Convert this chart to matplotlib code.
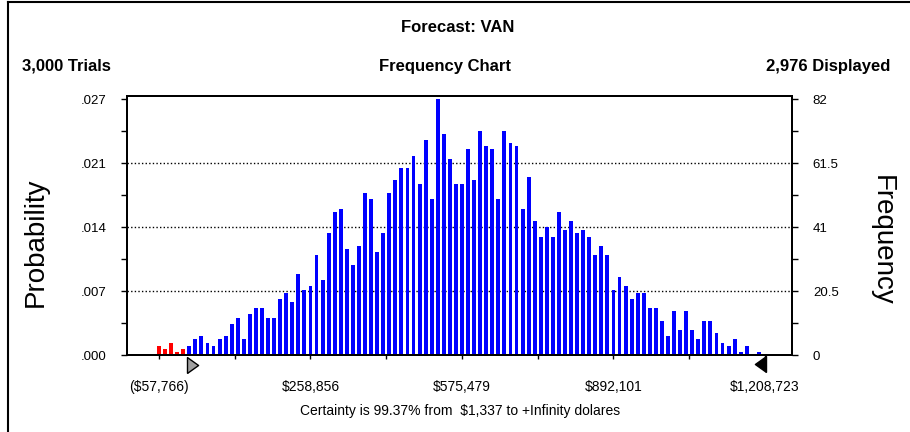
import matplotlib.pyplot as plt
import numpy as np
from matplotlib.lines import Line2D
from matplotlib.path import Path
from matplotlib.transforms import blended_transform_factory

# frequency counts of the 100 bins
counts = [3, 2, 4, 1, 2,
          3, 5, 6, 4, 3, 5, 6, 10, 12, 5, 13, 15, 15, 12, 12, 18, 20, 17, 26,
          21, 22, 32, 24, 39, 46, 47, 34,
          29, 35, 52, 50, 33, 39, 52, 56, 60, 60, 64, 55, 69, 50, 82, 71, 63,
          55, 55, 66, 56, 72, 67, 66, 50, 72, 68, 67, 47, 57, 43, 38, 41, 38, 46,
          40, 43, 39, 40, 38, 32, 35, 32, 21, 25, 22, 18, 20, 20, 15, 15, 11, 6,
          14, 8, 14, 8, 5, 11, 11, 7, 4, 3, 5, 1, 3, 0, 1]
range_min = -57766
range_max = 1208723
certainty_low = 1337
freq_ticks = [0, 20.5, 41, 61.5, 82]
prob_labels = [".000", ".007", ".014", ".021", ".027"]
freq_labels = ["0", "20.5", "41", "61.5", "82"]
x_labels = ["($57,766)", "$258,856", "$575,479", "$892,101", "$1,208,723"]

n_bins = len(counts)
bin_w = (range_max - range_min) / n_bins
span = range_max - range_min
centers = range_min + bin_w * np.arange(n_bins)
colors = ["#ff0000" if c < certainty_low else "#0000ff" for c in centers]

W, H = 910, 432
fig = plt.figure(figsize=(W / 100, H / 100), dpi=100)
ax = fig.add_axes([127 / W, 1 - 355 / H, (792 - 127) / W, (355 - 96) / H])

ax.bar(centers, counts, width=bin_w * 0.64, color=colors, zorder=3)
ax.set_xlim(range_min - 0.0528 * span, range_max + 0.0446 * span)
ax.set_ylim(0, 83.1)

ax.hlines(freq_ticks[1:-1], *ax.get_xlim(), colors="black",
          linestyles=(0, (1, 1.6)), linewidth=1.0, zorder=1)

for s in ax.spines.values():
    s.set_linewidth(1.4)

ax.set_xticks(np.linspace(range_min, range_max, 5), x_labels)
ax.set_xticks(np.linspace(range_min, range_max, 9), minor=True)
ax.tick_params(axis="x", which="both", length=3, width=1, pad=15,
               labelsize=10, labelfontfamily="Liberation Sans")

ax.set_yticks(freq_ticks, prob_labels)
ax.set_yticks(np.arange(0, 83, 10.25), minor=True)
ax.tick_params(axis="y", which="both", length=4, width=1, pad=11,
               labelsize=9.5, labelfontfamily="Liberation Sans")

ax2 = ax.twinx()
ax2.set_ylim(ax.get_ylim())
ax2.set_yticks(freq_ticks, freq_labels)
ax2.set_yticks(np.arange(0, 83, 10.25), minor=True)
ax2.tick_params(axis="y", which="both", length=4, width=1, pad=11,
                labelsize=9.5, labelfontfamily="Liberation Sans")
for s in ax2.spines.values():
    s.set_linewidth(1.4)

# certainty markers under the axis
tri_r = Path([(0, -1), (0, 1), (1.4, 0), (0, -1)])
tri_l = Path([(0, -1), (0, 1), (-1.4, 0), (0, -1)])
tr = blended_transform_factory(ax.transData, fig.transFigure)
ax.plot([certainty_low], [1 - 365 / H], marker=tri_r, markersize=16,
        markerfacecolor="#a0a0a0", markeredgecolor="black", markeredgewidth=1,
        transform=tr, clip_on=False, linestyle="none")
ax.plot([range_max + 0.0025 * span], [1 - 364 / H], marker=tri_l, markersize=16,
        markerfacecolor="black", markeredgecolor="black",
        transform=tr, clip_on=False, linestyle="none")

# header texts
head = dict(fontsize=12, fontweight="bold", family="Liberation Sans", va="center")
fig.text(458 / W, 1 - 27 / H, "Forecast: VAN", ha="center", **head)
fig.text(22 / W, 1 - 66 / H, "3,000 Trials", ha="left", **head)
fig.text(445 / W, 1 - 66 / H, "Frequency Chart", ha="center", **head)
fig.text(890 / W, 1 - 66 / H, "2,976 Displayed", ha="right", **head)

side = dict(fontsize=20, family=["Liberation Sans Narrow", "Liberation Sans"],
            va="center", ha="center")
fig.text(36 / W, 1 - 242 / H, "Probability", rotation=90, **side)
fig.text(882 / W, 1 - 240 / H, "Frequency", rotation=-90, **side)

fig.text(460 / W, 1 - 411 / H, "Certainty is 99.37% from  $1,337 to +Infinity dolares",
         ha="center", va="center", fontsize=10, family="Liberation Sans")

# frame lines on the left and top edges
fig.add_artist(Line2D([7.5 / W, 7.5 / W], [0, 1 - 2 / H], color="black",
                      linewidth=1.5, transform=fig.transFigure))
fig.add_artist(Line2D([7.5 / W, 1], [1 - 2 / H, 1 - 2 / H], color="black",
                      linewidth=1.5, transform=fig.transFigure))

fig.savefig("out.png", dpi=100)
